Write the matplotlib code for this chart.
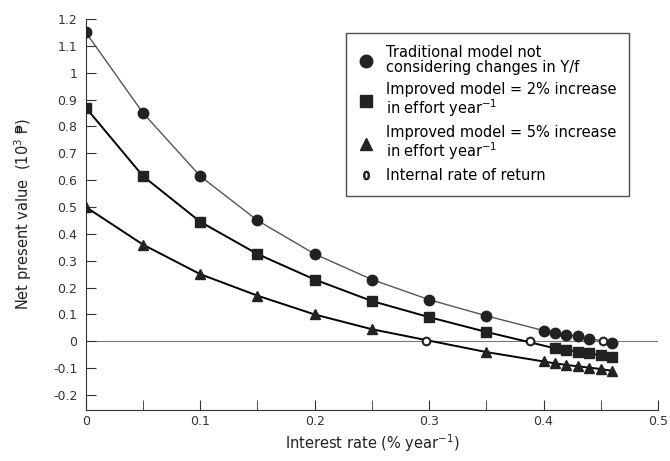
import matplotlib
matplotlib.use("Agg")
import matplotlib.pyplot as plt
from matplotlib.lines import Line2D

# interest rate (fraction per year)
rate_trad = [0, 0.05, 0.10, 0.15, 0.20, 0.25, 0.30, 0.35, 0.40, 0.41, 0.42, 0.43, 0.44, 0.46]
npv_trad = [1.15, 0.85, 0.615, 0.45, 0.325, 0.23, 0.155, 0.095, 0.04, 0.032, 0.025, 0.018, 0.01, -0.005]

rate_2pct = [0, 0.05, 0.10, 0.15, 0.20, 0.25, 0.30, 0.35, 0.41, 0.42, 0.43, 0.44, 0.45, 0.46]
npv_2pct = [0.87, 0.615, 0.445, 0.325, 0.23, 0.15, 0.09, 0.035, -0.026, -0.033, -0.038, -0.045, -0.052, -0.06]

rate_5pct = [0, 0.05, 0.10, 0.15, 0.20, 0.25, 0.35, 0.40, 0.41, 0.42, 0.43, 0.44, 0.45, 0.46]
npv_5pct = [0.5, 0.36, 0.25, 0.17, 0.10, 0.045, -0.04, -0.075, -0.082, -0.088, -0.093, -0.098, -0.103, -0.11]

# internal rate of return of each model (NPV = 0)
irr_rate = [0.452, 0.388, 0.297]
irr_npv = [0, 0, 0]

yticks = [-0.2, -0.1, 0, 0.1, 0.2, 0.3, 0.4, 0.5, 0.6, 0.7, 0.8, 0.9, 1.0, 1.1, 1.2]
ytick_labels = ["-0.2", "-0.1", "0", "0.1", "0.2", "0.3", "0.4", "0.5", "0.6",
                "0.7", "0.8", "0.9", "1", "1.1", "1.2"]
xticks = [0, 0.1, 0.2, 0.3, 0.4, 0.5]
xtick_labels = ["0", "0.1", "0.2", "0.3", "0.4", "0.5"]

plt.rcParams['font.family'] = ['DejaVu Sans']

fig = plt.figure(figsize=(6.7, 4.61), dpi=100)
ax = fig.add_axes([0.128, 0.111, 0.854, 0.848])

ax.axhline(0, color='#777777', lw=0.8, zorder=1)

ax.plot(rate_trad, npv_trad, '-', color='#555555', lw=1.0, zorder=2)
ax.plot(rate_2pct, npv_2pct, '-', color='black', lw=1.4, zorder=2)
ax.plot(rate_5pct, npv_5pct, '-', color='black', lw=1.4, zorder=2)

ax.plot(rate_trad, npv_trad, 'o', color='#222222', ms=7.5, ls='none', zorder=3)
ax.plot(rate_2pct, npv_2pct, 's', color='#222222', ms=7, ls='none', zorder=3)
ax.plot(rate_5pct, npv_5pct, '^', color='#222222', ms=7.5, ls='none', zorder=3)
ax.plot(irr_rate, irr_npv, 'o', mfc='white', mec='#222222', mew=1.5, ms=5.5, ls='none', zorder=4)

ax.set_xlim(0, 0.5)
ax.set_ylim(-0.255, 1.2)
ax.spines['top'].set_visible(False)
ax.spines['right'].set_visible(False)
ax.spines['left'].set_color('#333333')
ax.spines['bottom'].set_color('#333333')

ax.set_xticks(xticks)
ax.set_xticklabels(xtick_labels)
ax.set_xticks([0.05, 0.15, 0.25, 0.35, 0.45], minor=True)
ax.set_yticks(yticks)
ax.set_yticklabels(ytick_labels)
ax.tick_params(axis='both', which='both', direction='in', length=7, color='#333333',
               labelsize=9, labelcolor='#333333')
ax.tick_params(axis='x', pad=4)
ax.tick_params(axis='y', pad=6)

ax.set_xlabel('Interest rate (% year$^{-1}$)', fontsize=10.5, labelpad=3, color='#222222')
ax.set_ylabel('Net present value  (10$^3$ \u20b1)', fontsize=10.5, labelpad=14, color='#222222')

handles = [
    Line2D([], [], marker='o', color='#222222', ls='none', ms=9),
    Line2D([], [], marker='s', color='#222222', ls='none', ms=8),
    Line2D([], [], marker='^', color='#222222', ls='none', ms=8),
    Line2D([], [], marker='$0$', color='#222222', ls='none', ms=6),
]
labels = [
    'Traditional model not\nconsidering changes in Y/f',
    'Improved model = 2% increase\nin effort year$^{-1}$',
    'Improved model = 5% increase\nin effort year$^{-1}$',
    'Internal rate of return',
]
leg = ax.legend(handles, labels, loc='upper left', bbox_to_anchor=(0.4545, 0.964),
                frameon=True, fancybox=False, edgecolor='#222222', fontsize=10.5,
                handlelength=1.0, handletextpad=0.9, labelspacing=0.45,
                borderpad=0.85, borderaxespad=0)
for t in leg.get_texts():
    t.set_linespacing(1.0)
leg.get_frame().set_linewidth(1.0)

fig.savefig('out.png', dpi=100)
